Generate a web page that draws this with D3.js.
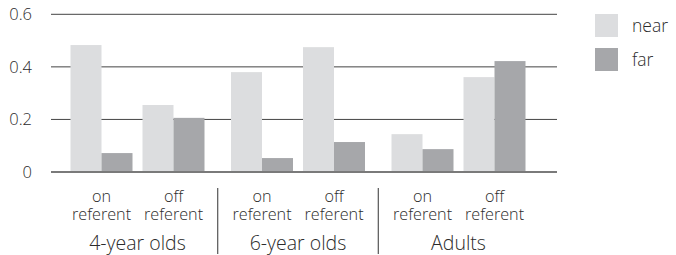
<!DOCTYPE html>
<html>
<head>
<meta charset="utf-8">
<script src="https://cdn.jsdelivr.net/npm/d3@7"></script>
<style>
  body { margin: 0; background: #fff; }
  text { font-family: "Open Sans", sans-serif; font-weight: 300; fill: #2b2b2b; }
</style>
</head>
<body>
<div id="chart"></div>
<script>
const groups = ["4-year olds", "6-year olds", "Adults"];
const conditions = ["on referent", "off referent"];
const series = ["near", "far"];
// values in order: group, then condition
const nearVals = [0.483, 0.255, 0.380, 0.475, 0.144, 0.361];
const farVals  = [0.072, 0.206, 0.053, 0.114, 0.087, 0.422];
const yTicks = [0, 0.2, 0.4, 0.6];
const colors = { near: "#dcdddf", far: "#a6a7aa" };

const width = 676, height = 255;

const svg = d3.select("#chart").append("svg")
  .attr("width", width).attr("height", height);

const y = d3.scaleLinear().domain([0, 0.6]).range([172, 14.3]);

const gx = d3.scaleBand().domain(groups).range([57.25, 538.75]);
const cx = d3.scaleBand().domain(conditions).range([-72, 72]);
const sx = d3.scaleBand().domain(series).range([-31, 31]);

// gridlines
svg.append("g").selectAll("line")
  .data(yTicks.filter(d => d > 0))
  .join("line")
    .attr("x1", 51).attr("x2", 557)
    .attr("y1", d => y(d)).attr("y2", d => y(d))
    .attr("stroke", "#444").attr("stroke-width", 1);

svg.append("g").selectAll("text")
  .data(yTicks)
  .join("text")
    .attr("x", 32).attr("y", d => y(d))
    .attr("dy", "0.35em")
    .attr("text-anchor", "end")
    .style("font-size", "16.5px")
    .text(d => d === 0 ? "0" : d.toFixed(1));

// bars
const rows = [];
groups.forEach((g, gi) => {
  conditions.forEach((c, ci) => {
    const i = gi * conditions.length + ci;
    rows.push({ g, c, s: "near", v: nearVals[i] });
    rows.push({ g, c, s: "far", v: farVals[i] });
  });
});

const xPos = d => gx(d.g) + gx.bandwidth() / 2 + cx(d.c) + cx.bandwidth() / 2;

svg.append("g").selectAll("rect")
  .data(rows)
  .join("rect")
    .attr("x", d => xPos(d) + sx(d.s))
    .attr("width", sx.bandwidth())
    .attr("y", d => y(d.v))
    .attr("height", d => y(0) - y(d.v))
    .attr("fill", d => colors[d.s]);

// baseline
svg.append("line")
  .attr("x1", 51).attr("x2", 557)
  .attr("y1", y(0)).attr("y2", y(0))
  .attr("stroke", "#7a7a7a").attr("stroke-width", 2);

// condition labels, two lines each
const cells = groups.flatMap(g => conditions.map(c => ({ g, c })));
[0, 1].forEach(line => {
  svg.append("g").selectAll("text")
    .data(cells)
    .join("text")
      .attr("x", d => xPos(d))
      .attr("y", line === 0 ? 202 : 220)
      .attr("text-anchor", "middle")
      .style("font-size", "16.2px")
      .text(d => d.c.split(" ")[line]);
});

// group labels
svg.append("g").selectAll("text")
  .data(groups)
  .join("text")
    .attr("x", d => gx(d) + gx.bandwidth() / 2)
    .attr("y", 250)
    .attr("text-anchor", "middle")
    .style("font-size", "19.5px")
    .text(d => d);

// separators
svg.append("g").selectAll("line")
  .data(groups.slice(1))
  .join("line")
    .attr("x1", d => gx(d)).attr("x2", d => gx(d))
    .attr("y1", 188).attr("y2", 254)
    .attr("stroke", "#333").attr("stroke-width", 1);

// legend
const legend = svg.append("g").selectAll("g")
  .data(series)
  .join("g")
    .attr("transform", (d, i) => `translate(595,${14 + i * 34})`);
legend.append("rect")
  .attr("width", 23).attr("height", 23)
  .attr("fill", d => colors[d]);
legend.append("text")
  .attr("x", 37).attr("y", 18)
  .style("font-size", "17.5px")
  .text(d => d);
</script>
</body>
</html>
